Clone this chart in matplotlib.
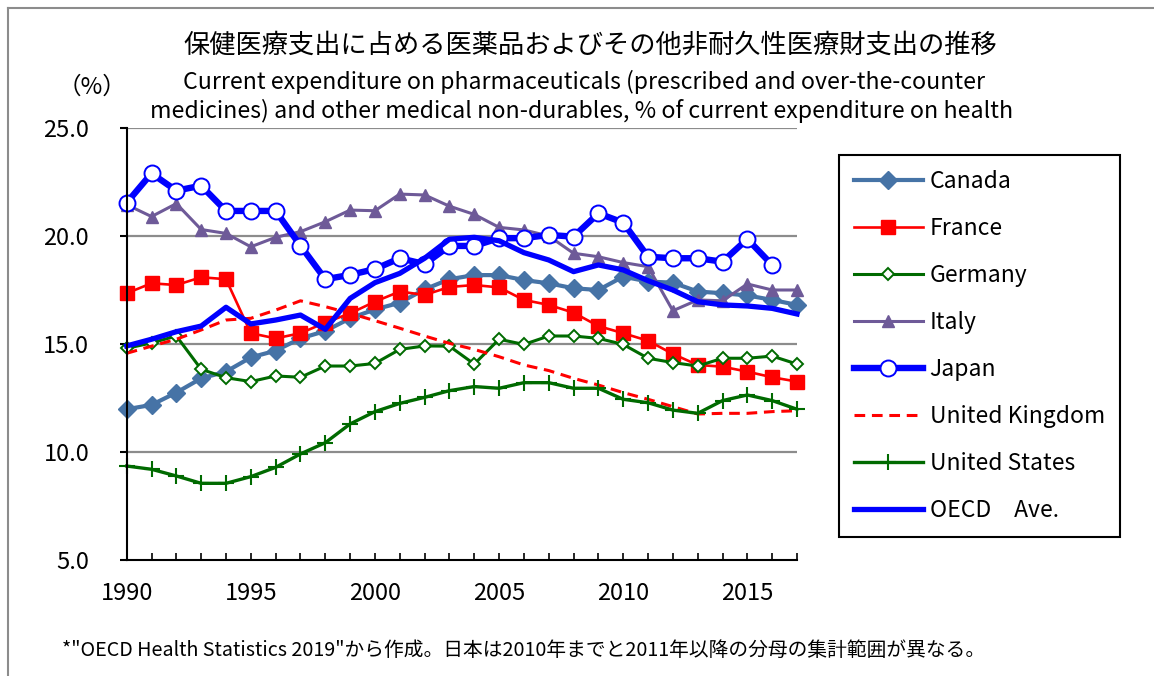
import numpy as np
import matplotlib
matplotlib.use("Agg")
import matplotlib.pyplot as plt
from matplotlib.lines import Line2D

plt.rcParams['font.family'] = ['Noto Sans CJK JP', 'DejaVu Sans']

years = list(range(1990, 2018))
canada = [11.98, 12.18, 12.75, 13.41, 13.72, 14.38, 14.69, 15.26, 15.60, 16.19, 16.60, 16.91, 17.53, 18.00,
          18.19, 18.19, 17.96, 17.81, 17.58, 17.50, 18.12, 17.89, 17.84, 17.43, 17.35, 17.25, 17.04, 16.81]
france = [17.35, 17.81, 17.73, 18.09, 18.00, 15.50, 15.26, 15.50, 15.99, 16.42, 16.96, 17.43, 17.27, 17.64,
          17.73, 17.62, 17.04, 16.81, 16.45, 15.83, 15.50, 15.15, 14.54, 14.03, 13.95, 13.72, 13.46, 13.26]
germany = [14.80, 15.05, 15.37, 13.83, 13.44, 13.26, 13.52, 13.46, 13.98, 13.98, 14.10, 14.75, 14.91, 14.90,
           14.07, 15.22, 14.98, 15.37, 15.37, 15.26, 14.98, 14.34, 14.14, 13.98, 14.34, 14.34, 14.44, 14.07]
italy = [21.45, 20.90, 21.50, 20.30, 20.12, 19.50, 19.94, 20.20, 20.66, 21.20, 21.17, 21.94, 21.90, 21.38,
         21.00, 20.40, 20.28, 20.00, 19.20, 19.04, 18.77, 18.58, 16.54, 17.04, 17.00, 17.78, 17.50, 17.50]
japan = [21.54, 22.90, 22.10, 22.33, 21.16, 21.16, 21.16, 19.55, 18.00, 18.20, 18.47, 18.97, 18.70, 19.54,
         19.54, 19.90, 19.90, 20.05, 19.97, 21.05, 20.62, 19.04, 18.97, 18.97, 18.81, 19.86, 18.66, np.nan]
uk = [14.57, 14.90, 15.22, 15.65, 16.11, 16.19, 16.57, 17.00, 16.73, 16.42, 16.08, 15.73, 15.37, 15.03,
      14.75, 14.41, 14.03, 13.77, 13.41, 13.10, 12.75, 12.44, 12.10, 11.76, 11.79, 11.79, 11.87, 11.91]
us = [9.35, 9.20, 8.89, 8.55, 8.55, 8.86, 9.29, 9.91, 10.43, 11.30, 11.87, 12.25, 12.53, 12.84,
      13.03, 12.95, 13.21, 13.21, 12.95, 12.95, 12.44, 12.28, 11.94, 11.79, 12.38, 12.64, 12.38, 11.98]
oecd = [14.91, 15.22, 15.57, 15.83, 16.70, 15.93, 16.11, 16.34, 15.68, 17.11, 17.84, 18.27, 18.97, 19.85,
        19.94, 19.78, 19.23, 18.89, 18.35, 18.66, 18.43, 17.93, 17.50, 16.96, 16.81, 16.76, 16.65, 16.39]

labels = ["Canada", "France", "Germany", "Italy", "Japan", "United Kingdom", "United States", "OECD\u3000Ave."]
yticks = [5.0, 10.0, 15.0, 20.0, 25.0]
xticklabels = [1990, 1995, 2000, 2005, 2010, 2015]

title_jp = "保健医療支出に占める医薬品およびその他非耐久性医療財支出の推移"
sub1 = "Current expenditure on pharmaceuticals (prescribed and over-the-counter"
sub2 = "medicines) and other medical non-durables, % of current expenditure on health"
footnote = "*\"OECD Health Statistics 2019\"から作成。日本は2010年までと2011年以降の分母の集計範囲が異なる。"

W, H = 1154, 676
fig = plt.figure(figsize=(W / 100, H / 100), dpi=100)
fig.patch.set_facecolor('white')

# outer frame (top and left)
fig.add_artist(Line2D([8 / W, 1.0], [1 - 8 / H, 1 - 8 / H], color='#8c8c8c', lw=1.5))
fig.add_artist(Line2D([8 / W, 8 / W], [0, 1 - 8 / H], color='#8c8c8c', lw=1.5))

ax = fig.add_axes([126.7 / W, 1 - 560 / H, (797 - 126.7) / W, (560 - 128) / H])
ax.set_xlim(1990, 2017)
ax.set_ylim(5, 25)

for v in yticks[1:]:
    ax.axhline(v, color='#8c8c8c', lw=1.6, zorder=0)

specs = [
    (canada, dict(color='#4673A6', lw=3.0, marker='D', ms=9.5, mfc='#4673A6', mec='#4673A6')),
    (france, dict(color='#FF0000', lw=1.9, marker='s', ms=9.5, mfc='#FF0000', mec='#FF0000')),
    (germany, dict(color='#006A00', lw=2.2, marker='D', ms=6.5, mfc='white', mec='#006A00', mew=1.4)),
    (italy, dict(color='#6E5A98', lw=2.2, marker='^', ms=9, mfc='#6E5A98', mec='#6E5A98')),
    (japan, dict(color='#0000FF', lw=4.6, marker='o', ms=11.5, mfc='white', mec='#0000FF', mew=1.4)),
    (uk, dict(color='#FF0000', lw=2.2, ls=(0, (3.5, 2.2)))),
    (us, dict(color='#006A00', lw=2.4, marker='+', ms=11, mew=1.5)),
    (oecd, dict(color='#0000FF', lw=3.8)),
]
handles = []
for (data, kw), lab in zip(specs, labels):
    h, = ax.plot(years, data, label=lab, solid_joinstyle='round', clip_on=False, **kw)
    handles.append(h)

for s in ['top', 'right']:
    ax.spines[s].set_visible(False)
for s in ['left', 'bottom']:
    ax.spines[s].set_linewidth(1.5)
    ax.spines[s].set_color('black')

ax.set_yticks(yticks)
ax.set_yticklabels([f"{v:.1f}" for v in yticks], fontsize=17)
ax.tick_params(axis='y', direction='out', length=5, width=1.5, pad=22)
ax.set_xticks(years)
ax.set_xticklabels([str(y) if y in xticklabels else '' for y in years], fontsize=17)
ax.tick_params(axis='x', direction='in', length=5, width=1.2, pad=16)

fig.canvas.draw()
renderer = fig.canvas.get_renderer()


def fit_text(x, y, s, target_w, size, **kw):
    t = fig.text(x, y, s, fontsize=size, **kw)
    w = t.get_window_extent(renderer).width
    t.set_fontsize(size * target_w / w)
    return t


fit_text(590 / W, 1 - 45 / H, title_jp, 814, 18, ha='center', va='center')
fit_text(584 / W, 1 - 82 / H, sub1, 802, 15, ha='center', va='center')
fit_text(581.5 / W, 1 - 111 / H, sub2, 863, 15, ha='center', va='center')
fig.text(92 / W, 1 - 87 / H, "（%）", fontsize=17, ha='center', va='center')
fit_text(62 / W, 1 - 650 / H, footnote, 923, 12, ha='left', va='center')

leg = fig.legend(handles=handles, labels=labels, loc='upper left',
                 bbox_to_anchor=(839 / W, 1 - 155 / H), fontsize=16.5,
                 frameon=True, fancybox=False, edgecolor='black', framealpha=1,
                 handlelength=3.0, handletextpad=0.3, labelspacing=1.05,
                 borderpad=0.65, numpoints=1, borderaxespad=0)
leg.get_frame().set_linewidth(1.5)

fig.savefig("out.png", dpi=100)
